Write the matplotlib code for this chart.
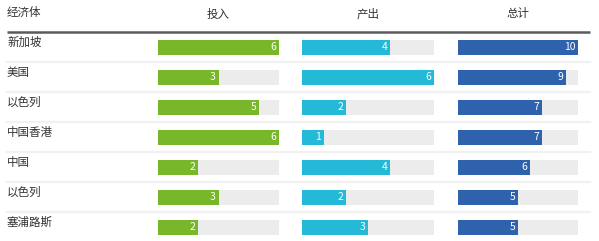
import numpy as np
import matplotlib
matplotlib.use("Agg")
import matplotlib.pyplot as plt

plt.rcParams['font.family'] = ['Noto Sans CJK SC', 'DejaVu Sans']

# data
economies = ['新加坡', '美国', '以色列', '中国香港', '中国', '以色列', '塞浦路斯']
col_titles = ['投入', '产出', '总计']
inputs = [6, 3, 5, 6, 2, 3, 2]
outputs = [4, 6, 2, 1, 4, 2, 3]
totals = [10, 9, 7, 7, 6, 5, 5]

series = [inputs, outputs, totals]
col_max = [6, 6, 10]
colors = ['#78b72a', '#25b9d8', '#2f62ad']
track = '#ececec'

W, H = 599, 241
fig = plt.figure(figsize=(W / 100, H / 100), dpi=100)

# row index scale: row 0 centre at 47px, step 30px
y_top = (0 - 47) / 30.0
y_bot = (H - 47) / 30.0

base = fig.add_axes([0, 0, 1, 1])
base.set_xlim(0, W)
base.set_ylim(y_bot, y_top)
base.axis('off')

n = len(economies)
# header
base.text(7, -1.15, '经济体', fontsize=8.3, color='#333333', ha='left', va='center')
col_px = [(158, 279), (302, 434), (458, 578)]
for (x0, x1), t in zip(col_px, col_titles):
    base.text((x0 + x1) / 2, -1.1, t, fontsize=8.3, color='#333333', ha='center', va='center')
base.plot([7, 590], [-0.5, -0.5], color='#5a5a5a', lw=1.8, solid_capstyle='butt')

# row separators and labels
for i, name in enumerate(economies):
    base.text(7, i - 0.15, name, fontsize=8.3, color='#333333', ha='left', va='center')
    if i < n - 1:
        base.plot([7, 590], [i + 0.5, i + 0.5], color='#f1f1f1', lw=1.6)

rows = np.arange(n)
for k, (vals, mx, c) in enumerate(zip(series, col_max, colors)):
    x0, x1 = col_px[k]
    ax = fig.add_axes([x0 / W, 0, (x1 - x0) / W, 1])
    ax.set_xlim(0, mx)
    ax.set_ylim(y_bot, y_top)
    ax.axis('off')
    ax.barh(rows, [mx] * n, height=0.5, color=track)
    ax.barh(rows, vals, height=0.5, color=c)
    for r, v in zip(rows, vals):
        ax.annotate(str(v), (v, r), xytext=(-2, 0), textcoords='offset points',
                    ha='right', va='center', fontsize=7.5, color='white')

fig.savefig('out.png', dpi=100, facecolor='white')
